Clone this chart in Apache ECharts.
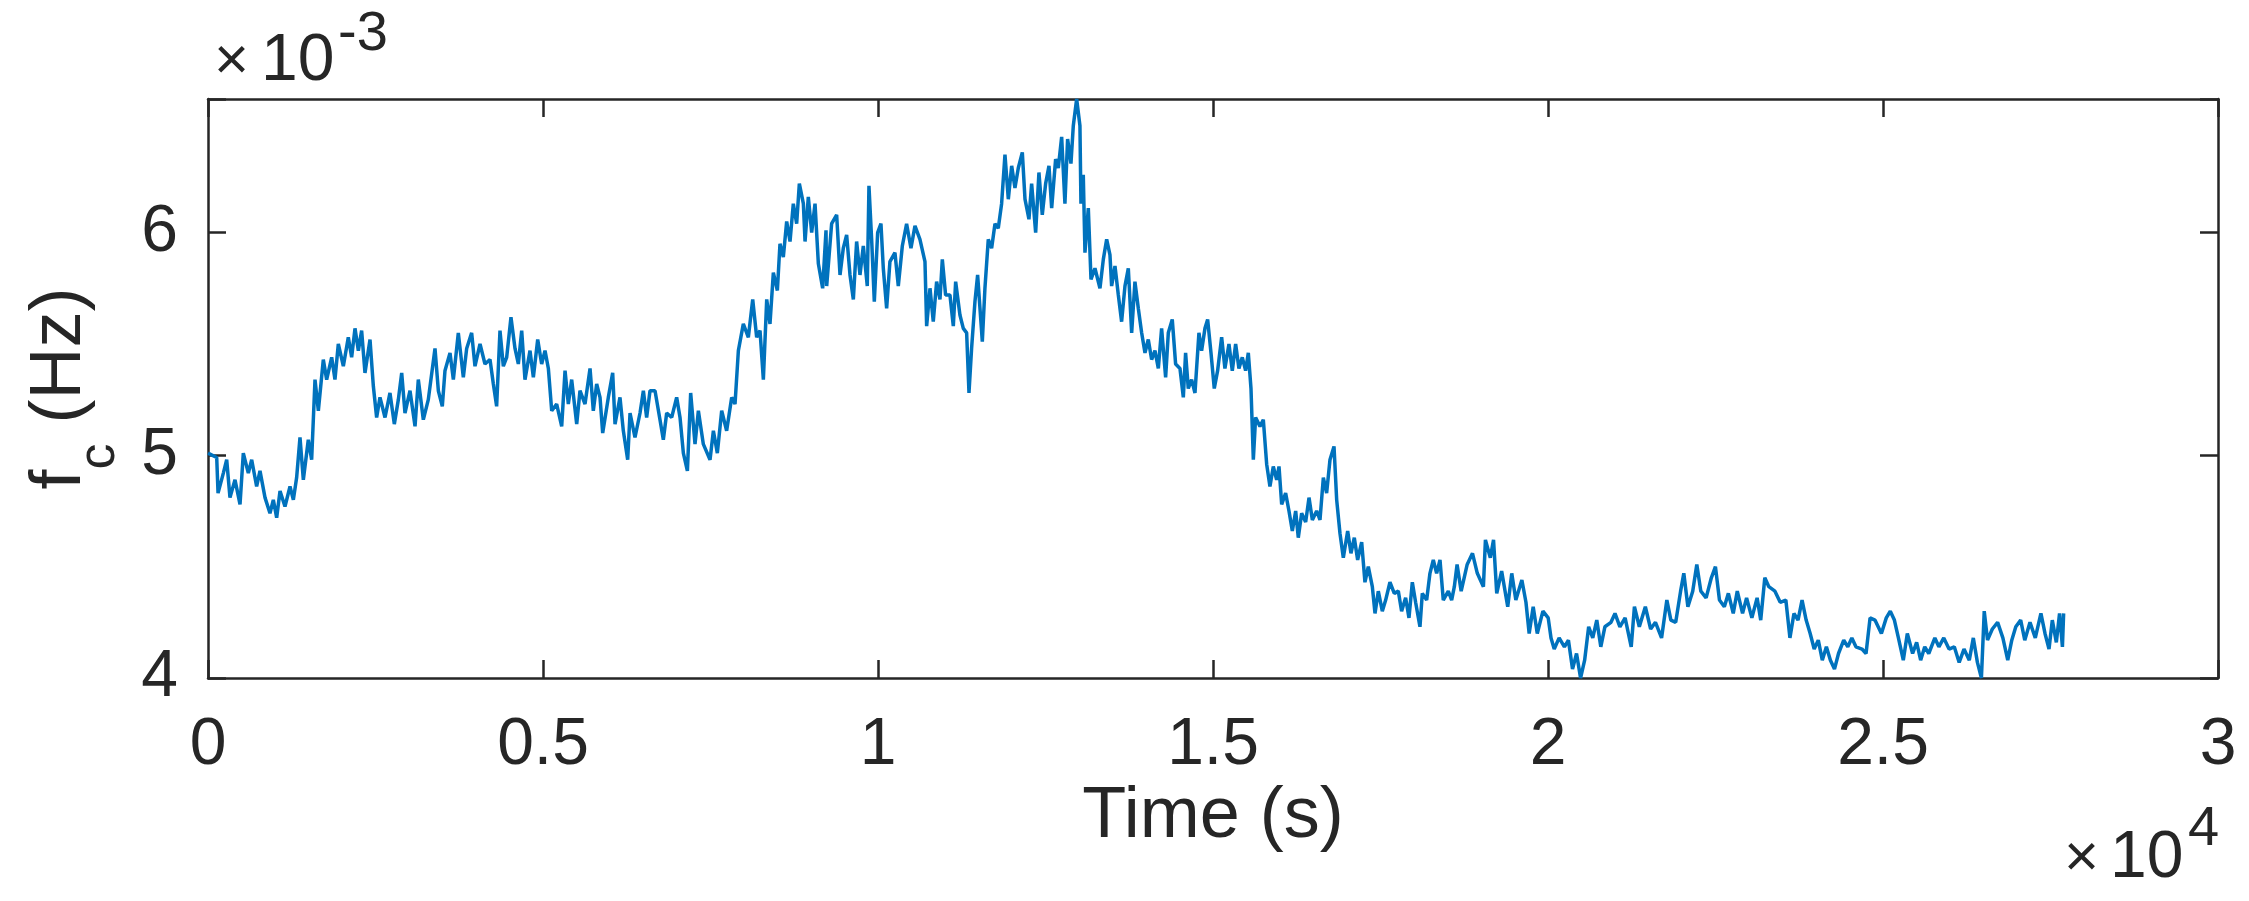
<!DOCTYPE html>
<html>
<head>
<meta charset="utf-8">
<script src="https://cdn.jsdelivr.net/npm/echarts@6/dist/echarts.min.js"></script>
<style>
html,body{margin:0;padding:0;background:#fff;}
#chart{width:2249px;height:901px;}
</style>
</head>
<body>
<div id="chart"></div>
<script>
// Time in seconds
const timeSec = [
0,130,150,229,279,328,403,478,527,602,652,726,776,851,925,975,1025,1075,1149,1224,
1274,1323,1373,1423,1497,1547,1597,1647,1721,1771,1846,1895,1945,2020,2094,2144,2194,2244,2293,2343,
2418,2468,2517,2567,2642,2716,2781,2841,2891,2940,3015,3090,3139,3214,3288,3388,3438,3497,3537,3612,
3662,3736,3811,3861,3935,3985,4060,4134,4209,4259,4308,4358,4408,4458,4522,4582,
4632,4682,4731,4806,4856,4921,4980,5030,5080,5130,5204,5279,5329,5378,5428,5503,5552,5627,5702,5751,
5801,5851,5891,5975,6040,6075,6149,6199,6264,6299,6373,6448,6498,6547,6597,6672,6746,6796,6846,6921,
6995,7045,7095,7155,7204,7269,7319,7393,7493,7543,7602,7667,7741,7816,7866,7916,7990,8065,8130,8189,
8239,8289,8339,8388,8438,8498,8537,8587,8637,8687,8736,8786,8826,8886,8911,8960,9010,9060,9110,9174,9224,
9234,9308,9383,9433,9482,9532,9582,9632,9681,9731,9781,9840,9865,9905,9945,9995,10044,10079,10129,10178,
10253,10303,10363,10427,10492,10552,10626,10701,10726,10776,10825,10875,10925,10960,11009,11074,11124,11159,11223,11273,
11323,11358,11397,11447,11487,11522,11557,11596,11646,11696,11746,11795,11845,11895,11945,11995,12044,12094,12154,12194,
12253,12293,12353,12402,12452,12502,12552,12592,12651,12691,12741,12790,12830,12880,12915,12965,13014,13029,13064,13089,
13139,13179,13238,13313,13363,13413,13462,13487,13537,13587,13636,13686,13736,13786,13835,13885,
13935,13985,14034,14084,14134,14184,14233,14293,14333,14392,14442,14507,14557,14591,14631,14681,14731,14790,14830,14880,
14920,14970,15019,15069,15129,15178,15238,15288,15338,15387,15437,15487,15527,15567,15602,15636,15701,15751,15801,15850,
15900,15950,15985,16025,16084,16134,16184,16234,16273,16323,16383,16433,16483,16547,16597,16647,16696,16746,16806,16846,
16895,16945,17010,17059,17109,17159,17219,17268,17318,17378,17418,17467,17527,17577,17641,17706,17766,17815,17875,17925,
17975,18024,18089,18124,18189,18238,18288,18338,18388,18437,18512,18562,18602,
18643,18704,18794,18873,18945,19036,19066,19139,19187,19235,19308,19399,19459,19520,19610,19671,19719,19779,19840,19924,
20003,20045,20093,20166,20245,20305,20366,20426,20486,20547,20607,20668,20728,20788,20849,20940,21000,21073,21151,21242,
21290,21363,21453,21532,21604,21695,21774,21834,21906,21979,22027,22088,22160,22221,22281,22360,22438,22499,22559,22632,
22692,22765,22825,22904,22964,23043,23121,23175,23236,23296,23387,23466,23550,23611,23671,23732,23792,23853,23913,23973,
24034,24094,24155,24215,24276,24336,24414,24475,24535,24596,24686,24747,24807,24880,24976,25049,25109,25170,25230,25303,
25363,25442,25502,25562,25623,25683,25774,25834,25907,25986,26064,26137,26209,26288,26348,26409,26469,26511,26560,26632,
26711,26789,26862,26922,26982,27055,27116,27194,27273,27357,27418,27478,27527,27587,27635,27678,27696
];
// Corner frequency in units of 1e-3 Hz
const fcMilliHz = [
5.01,4.99,4.83,4.92,4.98,4.81,4.89,4.78,5.01,4.92,4.98,4.86,4.93,4.81,4.74,4.80,4.72,4.84,4.77,4.86,
4.80,4.90,5.08,4.89,5.07,4.98,5.34,5.20,5.43,5.34,5.44,5.34,5.50,5.40,5.53,5.44,5.57,5.47,5.56,5.37,
5.52,5.31,5.17,5.26,5.17,5.28,5.14,5.25,5.37,5.19,5.29,5.13,5.34,5.16,5.25,5.48,5.29,5.22,5.38,5.46,
5.34,5.55,5.35,5.48,5.55,5.40,5.50,5.41,5.43,5.32,5.22,5.56,5.40,5.44,5.62,5.48,
5.41,5.56,5.34,5.47,5.35,5.52,5.41,5.47,5.39,5.20,5.23,5.13,5.38,5.23,5.34,5.14,5.29,5.23,5.39,5.20,
5.32,5.26,5.10,5.26,5.37,5.14,5.26,5.11,4.98,5.19,5.08,5.19,5.29,5.17,5.29,5.29,5.16,5.07,5.19,5.17,
5.26,5.17,5.01,4.93,5.28,5.05,5.20,5.05,4.98,5.11,5.01,5.20,5.11,5.26,5.23,5.47,5.59,5.53,5.70,5.53,
5.56,5.34,5.70,5.59,5.82,5.74,5.95,5.89,6.05,5.96,6.13,6.04,6.22,6.13,5.96,6.16,6.00,6.13,5.86,5.75,6.01,
5.76,6.04,6.08,5.81,5.93,5.99,5.81,5.70,5.96,5.81,5.94,5.76,6.21,5.97,5.69,6.00,6.04,5.84,5.66,5.87,
5.91,5.76,5.94,6.04,5.93,6.03,5.97,5.87,5.58,5.75,5.60,5.78,5.70,5.88,5.72,5.72,5.58,5.78,5.63,5.57,
5.55,5.28,5.48,5.69,5.81,5.66,5.51,5.75,5.97,5.93,6.04,6.02,6.13,6.35,6.15,6.30,6.20,6.29,6.36,6.15,
6.06,6.22,6.00,6.27,6.08,6.22,6.30,6.11,6.33,6.29,6.43,6.13,6.42,6.31,6.48,6.60,6.48,6.13,6.26,5.91,
6.11,5.79,5.84,5.75,5.88,5.97,5.90,5.76,5.85,5.72,5.60,5.76,5.84,5.55,5.78,5.66,
5.55,5.46,5.52,5.43,5.47,5.39,5.57,5.35,5.55,5.61,5.41,5.39,5.26,5.46,5.30,5.34,5.28,5.55,5.47,5.57,
5.61,5.46,5.30,5.38,5.53,5.39,5.50,5.38,5.50,5.39,5.44,5.38,5.46,5.30,4.98,5.17,5.13,5.16,4.96,4.86,
4.95,4.89,4.95,4.78,4.83,4.75,4.66,4.75,4.63,4.74,4.70,4.81,4.71,4.75,4.71,4.90,4.83,4.98,5.04,4.80,
4.65,4.54,4.66,4.56,4.63,4.53,4.61,4.43,4.50,4.41,4.29,4.39,4.30,4.35,4.43,4.38,4.39,4.30,4.36,4.27,
4.43,4.34,4.23,4.38,4.35,4.47,4.53,4.47,4.53,4.35,4.39,4.35,4.41,
4.51,4.39,4.51,4.56,4.47,4.41,4.62,4.54,4.62,4.38,4.48,4.32,4.47,4.35,4.44,4.34,4.20,4.32,4.20,4.30,
4.27,4.18,4.13,4.18,4.14,4.17,4.04,4.11,4.00,4.08,4.23,4.18,4.26,4.14,4.23,4.25,4.29,4.23,4.27,4.14,
4.32,4.23,4.32,4.22,4.25,4.18,4.35,4.26,4.25,4.39,4.47,4.32,4.39,4.51,4.39,4.36,4.45,4.50,4.35,4.32,
4.38,4.29,4.39,4.29,4.36,4.27,4.36,4.26,4.45,4.41,4.39,4.34,4.35,4.18,4.29,4.26,4.35,4.26,4.20,4.13,
4.17,4.08,4.14,4.08,4.04,4.11,4.17,4.14,4.18,4.14,4.13,4.11,4.27,4.26,4.20,4.27,4.30,4.26,4.18,4.08,
4.20,4.11,4.16,4.08,4.14,4.11,4.18,4.14,4.18,4.13,4.14,4.07,4.13,4.08,4.18,4.07,4.00,4.30,4.17,4.22,
4.25,4.18,4.08,4.17,4.23,4.26,4.17,4.25,4.18,4.29,4.20,4.13,4.26,4.16,4.29,4.14,4.29
];
const xTicksSec = [0, 5000, 10000, 15000, 20000, 25000, 30000];
const yTicks = [4, 5, 6];

const FONT = "'Liberation Sans', Arial, Helvetica, sans-serif";
const INK = '#262626';
const seriesData = timeSec.map((t, i) => [t, fcMilliHz[i]]);

const chart = echarts.init(document.getElementById('chart'), null, {renderer: 'canvas'});

const baseX = {
  type: 'value', min: xTicksSec[0], max: xTicksSec[xTicksSec.length - 1],
  interval: xTicksSec[1] - xTicksSec[0],
  splitLine: {show: false},
  axisLine: {show: true, onZero: false, lineStyle: {color: INK, width: 2.5}},
  axisTick: {show: true, inside: true, length: 18, lineStyle: {color: INK, width: 2.5}}
};
const baseY = {
  type: 'value', min: yTicks[0], max: 6.6, interval: yTicks[1] - yTicks[0],
  splitLine: {show: false},
  axisLine: {show: true, onZero: false, lineStyle: {color: INK, width: 2.5}},
  axisTick: {show: true, inside: true, length: 18, lineStyle: {color: INK, width: 2.5}}
};

function txt(text, size, pos) {
  return Object.assign({type: 'text', silent: true,
    style: {text: text, fontSize: size, fontFamily: FONT, fill: INK}}, pos);
}

chart.setOption({
  animation: false,
  backgroundColor: '#ffffff',
  textStyle: {fontFamily: FONT, color: INK},
  grid: {left: 208, right: 31, top: 99, bottom: 223, containLabel: false, outerBoundsMode: 'none'},
  xAxis: [
    Object.assign({}, baseX, {
      position: 'bottom',
      axisLabel: {show: true, fontSize: 66, color: INK, fontFamily: FONT, margin: 35,
        formatter: v => String(v / 10000)},
      name: 'Time (s)', nameLocation: 'middle', nameGap: 103, nameMoveOverlap: false,
      nameTextStyle: {fontSize: 72, color: INK, fontFamily: FONT}
    }),
    Object.assign({}, baseX, {position: 'top', axisLabel: {show: false}})
  ],
  yAxis: [
    Object.assign({}, baseY, {
      position: 'left',
      axisLabel: {show: true, fontSize: 66, color: INK, fontFamily: FONT, margin: 30,
        formatter: v => (Number.isInteger(v) ? String(v) : '')},
      name: '{a|f}{b|c}{a| (Hz)}', nameLocation: 'middle', nameRotate: 90, nameGap: 82,
      nameMoveOverlap: false,
      nameTextStyle: {
        color: INK, fontFamily: FONT,
        rich: {
          a: {fontSize: 72, lineHeight: 72, padding: [0, 0, 60, 0], fontFamily: FONT, color: INK},
          b: {fontSize: 52, lineHeight: 52, padding: [50, 0, 30, 0], fontFamily: FONT, color: INK}
        }
      }
    }),
    Object.assign({}, baseY, {position: 'right', axisLabel: {show: false}})
  ],
  graphic: [
    txt('×', 60, {left: 214, top: 32}),
    txt('10', 66, {left: 261, top: 29}),
    txt('-3', 56, {left: 338, top: 7}),
    txt('×', 60, {left: 2064, top: 829}),
    txt('10', 66, {left: 2110, top: 826}),
    txt('4', 56, {left: 2188, top: 802})
  ],
  series: [{
    type: 'line',
    xAxisIndex: 0, yAxisIndex: 0,
    data: seriesData,
    showSymbol: false,
    symbol: 'none',
    lineStyle: {color: '#0072BD', width: 3.5},
    clip: true
  }]
});
</script>
</body>
</html>
